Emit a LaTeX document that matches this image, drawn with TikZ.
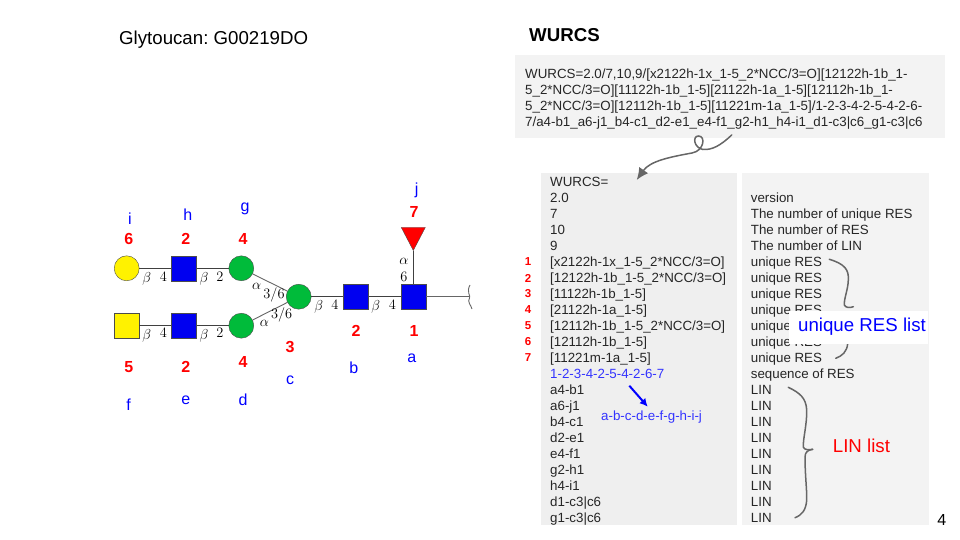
\documentclass[tikz,border=0pt]{standalone}
\usepackage{fontspec}
\setmainfont{Liberation Sans}
\usetikzlibrary{shapes.geometric,arrows.meta}
\definecolor{boxgrey}{HTML}{EFEFEF}
\definecolor{boxlight}{HTML}{F3F3F3}
\definecolor{curlgrey}{HTML}{666666}
\definecolor{sugarblue}{HTML}{0000F0}
\definecolor{sugargreen}{HTML}{00BB3A}
\tikzset{
  square/.style={rectangle, draw=black!70, fill=sugarblue, minimum size=25pt, inner sep=0pt},
  ball/.style={circle, draw=black!70, fill=sugargreen, minimum size=25pt, inner sep=0pt},
  linkage/.style={inner sep=0pt, font=\fontsize{14}{15}\selectfont},
  bond/.style={draw=black!75, line width=0.9pt},
  rednum/.style={text=red, inner sep=0pt, font=\fontsize{16}{18}\selectfont\bfseries},
  blueletter/.style={text=blue, inner sep=0pt, font=\fontsize{16}{18}\selectfont},
  rowtext/.style={anchor=west, inner sep=0pt, text height=13pt, text depth=3pt, text=black!85, font=\fontsize{13.33}{15}\selectfont},
  rownum/.style={text=red, inner sep=0pt, font=\fontsize{11.5}{12}\selectfont\bfseries},
  curl/.style={draw=curlgrey, line width=1.5pt, line cap=round},
}
\begin{document}
\frenchspacing
\begin{tikzpicture}[x=1pt, y=-1pt]
  \useasboundingbox (0,0) rectangle (960,540);

  % grey panels
  \node[fill=boxlight, minimum width=430pt, minimum height=83pt, inner sep=0pt] (wurcsbox) at (730,96.5) {};
  \node[fill=boxgrey, minimum width=196pt, minimum height=352pt, inner sep=0pt] (leftbox) at (639,349) {};
  \node[fill=boxlight, minimum width=187pt, minimum height=352pt, inner sep=0pt] (rightbox) at (835.5,349) {};

  \node[anchor=west, inner sep=0pt, font=\fontsize{18.67}{20}\selectfont] (title) at (119,39.5) {Glytoucan: G00219DO};
  \node[anchor=west, inner sep=0pt, font=\fontsize{18.67}{20}\selectfont\bfseries] (wurcshead) at (529,35) {WURCS};

  \node[anchor=north west, inner sep=0pt, align=left, text=black!85, font=\fontsize{13.33}{16}\selectfont] (wurcsline) at (525,68.5) {WURCS=2.0/7,10,9/[x2122h-1x\_1-5\_2*NCC/3=O][12122h-1b\_1-\\
5\_2*NCC/3=O][11122h-1b\_1-5][21122h-1a\_1-5][12112h-1b\_1-\\
5\_2*NCC/3=O][12112h-1b\_1-5][11221m-1a\_1-5]/1-2-3-4-2-5-4-2-6-\\
7/a4-b1\_a6-j1\_b4-c1\_d2-e1\_e4-f1\_g2-h1\_h4-i1\_d1-c3|c6\_g1-c3|c6};

  % glycan
  \node[ball, fill=yellow] (i) at (126.7,268.3) {};
  \node[square] (h) at (184,268.3) {};
  \node[ball] (g) at (241.3,268.3) {};
  \node[square, fill=yellow] (f) at (126.7,325.7) {};
  \node[square] (e) at (184,325.7) {};
  \node[ball] (d) at (241.3,325.7) {};
  \node[ball] (c) at (298.7,296.7) {};
  \node[square] (b) at (356,296.7) {};
  \node[square] (a) at (413.3,296.7) {};
  \node[isosceles triangle, isosceles triangle stretches, shape border rotate=-90, draw=black!70, fill=red, minimum width=24pt, minimum height=23pt, inner sep=0pt, anchor=apex] (j) at (413.3,251) {};
  \coordinate (root) at (470,296.7);
  \coordinate (curltop) at (470,285);
  \coordinate (curlend) at (472,309);

  \draw[bond] (i) -- (h);
  \draw[bond] (h) -- (g);
  \draw[bond] (f) -- (e);
  \draw[bond] (e) -- (d);
  \draw[bond, draw=black!60] (g) -- (c);
  \draw[bond, draw=black!60] (d) -- (c);
  \draw[bond] (c) -- (b);
  \draw[bond] (b) -- (a);
  \draw[bond] (j.apex) -- (a);
  \draw[bond, draw=black!60] (a) -- (root);
  \draw[draw=black!60, line width=0.9pt] (curltop) .. controls (466,292) and (471,296) .. (469.5,298) .. controls (467,302) and (471,305) .. (curlend);

  \node[linkage] (l1) at (146.7,279.3) {$\beta$};
  \node[linkage] (l2) at (163.3,276.7) {$4$};
  \node[linkage] (l3) at (204,279.3) {$\beta$};
  \node[linkage] (l4) at (220,276.7) {$2$};
  \node[linkage] (l5) at (146.7,335.7) {$\beta$};
  \node[linkage] (l6) at (163.3,333.3) {$4$};
  \node[linkage] (l7) at (204,335.7) {$\beta$};
  \node[linkage] (l8) at (220,333.3) {$2$};
  \node[linkage] (l9) at (318.7,307.3) {$\beta$};
  \node[linkage] (l10) at (335,305) {$4$};
  \node[linkage] (l11) at (375.7,307.3) {$\beta$};
  \node[linkage] (l12) at (392.3,305) {$4$};
  \node[linkage] (l13) at (404,261.7) {$\alpha$};
  \node[linkage] (l14) at (404,276.7) {$6$};
  \node[linkage] (l15) at (256.7,286.7) {$\alpha$};
  \node[linkage] (l16) at (274,295) {$3/6$};
  \node[linkage] (l17) at (281.7,315) {$3/6$};
  \node[linkage] (l18) at (264.3,323.3) {$\alpha$};

  \node[rednum] (n7) at (414,212.3) {7};
  \node[rednum] (n4top) at (243,239.3) {4};
  \node[rednum] (n2top) at (185.7,239.3) {2};
  \node[rednum] (n6) at (128.7,239.3) {6};
  \node[rednum] (n5) at (128.7,367.3) {5};
  \node[rednum] (n2low) at (185.7,367.3) {2};
  \node[rednum] (n4low) at (243,362.3) {4};
  \node[rednum] (n3) at (290,346.7) {3};
  \node[rednum] (n2b) at (356,331) {2};
  \node[rednum] (n1) at (414,331) {1};

  \node[blueletter] (tj) at (416.7,190) {j};
  \node[blueletter] (tg) at (245,209.3) {g};
  \node[blueletter] (th) at (187.7,215) {h};
  \node[blueletter] (ti) at (130,219) {i};
  \node[blueletter] (tf) at (128.7,405) {f};
  \node[blueletter] (te) at (185.7,400) {e};
  \node[blueletter] (td) at (243,399.3) {d};
  \node[blueletter] (tc) at (290,380) {c};
  \node[blueletter] (tb) at (353.7,367.3) {b};
  \node[blueletter] (ta) at (411.7,358.3) {a};

  % left column
  \node[rowtext] (r0) at (550,181) {WURCS=};
  \node[rowtext] (r1) at (550,197) {2.0};
  \node[rowtext] (r2) at (550,213) {7};
  \node[rowtext] (r3) at (550,229) {10};
  \node[rowtext] (r4) at (550,245) {9};
  \node[rowtext] (r5) at (550,261) {[x2122h-1x\_1-5\_2*NCC/3=O]};
  \node[rowtext] (r6) at (550,277) {[12122h-1b\_1-5\_2*NCC/3=O]};
  \node[rowtext] (r7) at (550,293) {[11122h-1b\_1-5]};
  \node[rowtext] (r8) at (550,309) {[21122h-1a\_1-5]};
  \node[rowtext] (r9) at (550,325) {[12112h-1b\_1-5\_2*NCC/3=O]};
  \node[rowtext] (r10) at (550,341) {[12112h-1b\_1-5]};
  \node[rowtext] (r11) at (550,357) {[11221m-1a\_1-5]};
  \node[rowtext, text=blue!80!white] (r12) at (550,373) {1-2-3-4-2-5-4-2-6-7};
  \node[rowtext] (r13) at (550,389) {a4-b1};
  \node[rowtext] (r14) at (550,405) {a6-j1};
  \node[rowtext] (r15) at (550,421) {b4-c1};
  \node[rowtext] (r16) at (550,437) {d2-e1};
  \node[rowtext] (r17) at (550,453) {e4-f1};
  \node[rowtext] (r18) at (550,469) {g2-h1};
  \node[rowtext] (r19) at (550,485) {h4-i1};
  \node[rowtext] (r20) at (550,501) {d1-c3|c6};
  \node[rowtext] (r21) at (550,517) {g1-c3|c6};

  \node[rownum] (u1) at (528,262) {1};
  \node[rownum] (u2) at (528,278) {2};
  \node[rownum] (u3) at (528,294) {3};
  \node[rownum] (u4) at (528,310) {4};
  \node[rownum] (u5) at (528,326) {5};
  \node[rownum] (u6) at (528,342) {6};
  \node[rownum] (u7) at (528,358) {7};

  % right column
  \node[rowtext] (s1) at (750.7,197) {version};
  \node[rowtext] (s2) at (750.7,213) {The number of unique RES};
  \node[rowtext] (s3) at (750.7,229) {The number of RES};
  \node[rowtext] (s4) at (750.7,245) {The number of LIN};
  \node[rowtext] (s5) at (750.7,261) {unique RES};
  \node[rowtext] (s6) at (750.7,277) {unique RES};
  \node[rowtext] (s7) at (750.7,293) {unique RES};
  \node[rowtext] (s8) at (750.7,309) {unique RES};
  \node[rowtext] (s9) at (750.7,325) {unique RES};
  \node[rowtext] (s10) at (750.7,341) {unique RES};
  \node[rowtext] (s11) at (750.7,357) {unique RES};
  \node[rowtext] (s12) at (750.7,373) {sequence of RES};
  \node[rowtext] (s13) at (750.7,389) {LIN};
  \node[rowtext] (s14) at (750.7,405) {LIN};
  \node[rowtext] (s15) at (750.7,421) {LIN};
  \node[rowtext] (s16) at (750.7,437) {LIN};
  \node[rowtext] (s17) at (750.7,453) {LIN};
  \node[rowtext] (s18) at (750.7,469) {LIN};
  \node[rowtext] (s19) at (750.7,485) {LIN};
  \node[rowtext] (s20) at (750.7,501) {LIN};
  \node[rowtext] (s21) at (750.7,517) {LIN};

  % curly arrows and braces
  \coordinate (curlstart) at (731.7,135);
  \coordinate (curltip) at (636.7,180);
  \draw[curl, -{Latex[length=12pt,width=11pt]}] (curlstart) .. controls (720,146) and (712,150) .. (703,149.5) .. controls (694,148) and (692,136) .. (698.5,136) .. controls (706,136) and (704,151) .. (692,153) .. controls (670,157) and (650,161) .. (curltip);

  \coordinate (uniquetop) at (829.3,259.3);
  \coordinate (uniquetip) at (853.3,306.7);
  \coordinate (uniquelow) at (835.7,358.3);
  \draw[curl] (uniquetop) .. controls (845,264) and (849,270) .. (848.3,280) .. controls (848,290) and (844,298) .. (844.3,305) .. controls (846,308) and (850,308) .. (uniquetip);
  \draw[curl] (847.7,343.3) .. controls (847,352) and (842,356) .. (uniquelow);

  \coordinate (lintop) at (788.3,387.3);
  \coordinate (lintip) at (812.7,449.3);
  \coordinate (linlow) at (795,517.7);
  \draw[curl] (lintop) .. controls (800,393) and (806,398) .. (806.7,410) .. controls (807,425) and (803,438) .. (803.3,447) .. controls (804,450) and (809,450) .. (lintip);
  \draw[curl] (lintip) .. controls (808,450) and (805,452) .. (805,457) .. controls (805,475) and (807,490) .. (806.7,500) .. controls (806,510) and (802,515) .. (linlow);

  \coordinate (seqstart) at (629.3,385.7);
  \coordinate (seqend) at (647.7,406.7);
  \draw[draw=blue, line width=2pt, -{Latex[length=8pt,width=8pt]}] (seqstart) -- (seqend);
  \node[anchor=west, inner sep=0pt, text=blue!80!white, font=\fontsize{13.33}{15}\selectfont] (seqletters) at (601,417.5) {a-b-c-d-e-f-g-h-i-j};

  \node[fill=white, minimum width=139pt, minimum height=33pt, inner sep=0pt] (uniquebox) at (858.5,327) {};
  \node[anchor=west, inner sep=0pt, text=blue, font=\fontsize{18.67}{20}\selectfont] (uniquelist) at (798,327) {unique RES list};
  \node[anchor=west, inner sep=0pt, text=red, font=\fontsize{18.67}{20}\selectfont] (linlist) at (832.7,446) {LIN list};
  \node[inner sep=0pt, font=\fontsize{16}{18}\selectfont] (pagenum) at (941.7,520) {4};
\end{tikzpicture}
\end{document}
